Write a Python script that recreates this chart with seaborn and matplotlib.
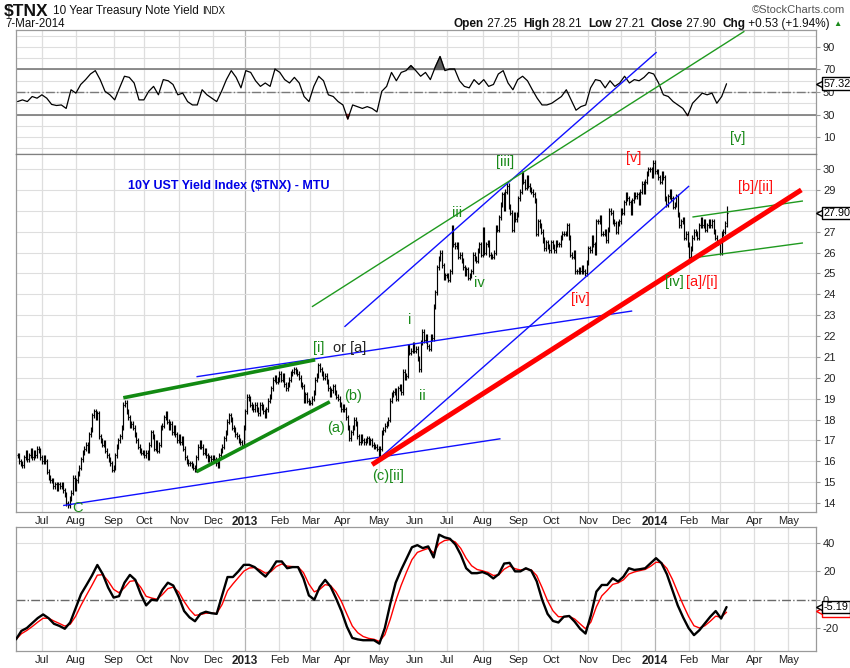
"""
$TNX daily bars with RSI behind price and a momentum oscillator below
"""
import numpy as np
import pandas as pd
import matplotlib
matplotlib.use('Agg')
import matplotlib.pyplot as plt
import matplotlib.transforms as mtransforms
import seaborn as sns

sns.set_style('white')
plt.rcParams['font.family'] = ['Liberation Sans', 'DejaVu Sans']
plt.rcParams['axes.unicode_minus'] = False

#%% ============================================ #
# DATA
# ============================================ #
jun12 = [16.3, 16.0, 15.9, 15.8, 16.2, 16.4, 16.1, 16.3, 16.5, 16.2, 16.4, 16.3, 16.6, 16.5, 16.2]
jul12 = [16.0, 16.2, 16.0, 15.5, 15.2, 15.1, 15.1, 14.8, 14.9, 14.7, 14.9, 14.8, 14.9, 14.6, 14.4,
         14.0, 13.9, 14.2, 14.5, 15.2, 14.7]
aug12 = [15.1, 15.4, 15.7, 16.1, 16.4, 16.6, 16.8, 16.5, 17.3, 17.5, 18.2, 18.4, 18.1, 18.3, 17.2,
         17.0, 16.8, 16.9, 16.5, 16.3, 16.1, 15.9, 15.6]
sep12 = [15.7, 16.3, 16.7, 17.0, 17.2, 17.6, 18.7, 18.8, 18.4, 18.1, 17.7, 17.8, 17.6, 17.3, 17.0,
         16.7, 16.5, 16.4, 16.4]
oct12 = [16.3, 16.4, 16.2, 16.8, 17.4, 17.2, 16.6, 16.9, 16.5, 16.8, 17.6, 17.7, 18.1, 18.3, 17.9,
         17.6, 17.8, 17.4, 17.6, 17.3, 17.0]
nov12 = [17.2, 16.9, 17.1, 16.6, 16.2, 16.0, 15.9, 15.9, 15.8, 15.7, 15.6, 16.2, 16.7, 16.9, 16.7,
         16.4, 16.5, 16.3, 16.1, 16.2, 16.1]
dec12 = [16.2, 16.1, 15.9, 15.8, 16.3, 16.5, 16.7, 17.1, 17.4, 17.9, 18.2, 18.0, 17.6, 17.5, 17.3,
         17.2, 17.0, 16.9, 16.8, 17.6]
jan13 = [18.4, 19.1, 19.0, 18.7, 18.6, 18.5, 18.7, 18.5, 18.3, 18.7, 18.6, 18.4, 18.2, 18.5, 18.9,
         19.1, 19.5, 19.9, 20.0, 19.8, 19.9]
feb13 = [20.2, 19.9, 20.1, 19.7, 19.5, 19.7, 19.9, 20.2, 20.3, 20.4, 20.3, 20.2, 20.0, 19.7, 19.6,
         18.9, 19.2, 18.9, 18.8]
mar13 = [18.8, 19.0, 19.3, 19.9, 20.1, 20.6, 20.4, 20.2, 20.0, 20.1, 19.8, 19.5, 19.2, 19.4, 19.6,
         19.3, 19.1, 19.0, 18.7, 18.5]
apr13 = [18.6, 18.5, 18.1, 17.6, 17.1, 17.4, 17.6, 18.0, 17.8, 17.2, 16.9, 17.2, 17.0, 16.9, 17.0,
         17.1, 16.9, 17.0, 16.8, 16.7, 16.7, 16.6]
may13 = [16.3, 16.6, 17.4, 17.5, 17.7, 17.8, 18.0, 18.9, 19.2, 19.3, 19.4, 19.0, 19.5, 19.6, 19.3,
         20.3, 20.0, 20.1, 21.5, 21.2, 21.3, 21.6]
jun13 = [21.3, 21.4, 20.9, 20.4, 21.7, 22.2, 21.8, 22.0, 21.5, 21.4, 22.0, 21.9, 23.4, 24.1, 25.3,
         25.7, 26.0, 25.4, 24.8, 24.9]
jul13 = [24.9, 24.7, 25.1, 27.2, 26.4, 26.3, 26.4, 25.8, 25.9, 25.6, 25.3, 25.0, 25.2, 24.8, 24.9,
         25.1, 25.9, 25.7, 25.6, 26.1, 26.4, 25.9]
aug13 = [27.1, 26.0, 26.4, 26.5, 25.9, 25.8, 25.8, 26.0, 27.2, 27.1, 27.7, 28.3, 28.8, 28.1, 28.9,
         29.2, 28.2, 27.9, 27.1, 27.8, 27.6, 27.8]
sep13 = [28.6, 28.9, 29.8, 29.4, 29.1, 29.6, 29.2, 29.0, 28.9, 28.8, 28.5, 26.9, 27.5, 27.3, 27.0,
         26.6, 26.2, 26.5, 26.3, 26.1]
oct13 = [26.5, 26.3, 26.1, 26.5, 26.4, 26.4, 26.7, 26.9, 26.9, 26.9, 27.3, 26.7, 25.9, 25.8, 26.0,
         25.1, 25.1, 25.2, 25.1, 25.3, 25.1, 25.0, 25.5]
nov13 = [26.2, 26.1, 26.7, 26.4, 26.0, 27.5, 27.5, 27.7, 26.9, 26.9, 27.0, 26.6, 27.1, 28.0, 27.9,
         27.5, 27.4, 27.0, 27.4, 27.5]
dec13 = [28.0, 27.9, 28.4, 28.8, 28.6, 28.4, 27.9, 28.5, 28.8, 28.7, 28.8, 28.4, 28.9, 29.3, 28.9,
         29.4, 29.8, 30.0, 30.0, 29.7, 30.3]
jan14 = [29.9, 29.9, 29.6, 29.4, 29.8, 29.6, 28.6, 28.3, 28.7, 28.9, 28.6, 28.2, 28.3, 28.7, 27.8,
         27.3, 27.5, 27.6, 26.7, 26.9, 26.4]
feb14 = [25.8, 26.2, 26.7, 27.0, 26.9, 26.7, 27.3, 27.6, 27.3, 27.5, 27.1, 27.3, 27.5, 27.3, 27.5,
         27.0, 26.7, 26.5, 26.5]
mar14 = [26.0, 26.9, 27.0, 27.4, 27.9]

# last bar from the header
last_open, last_high, last_low, last_close = 27.25, 28.21, 27.21, 27.90
last_chg, last_pct = '+0.53', '+1.94%'
last_rsi = 57.32
last_osc, last_signal = -5.19, -8.03

# RSI(14), sampled about every third session
rsi14 = [41.5, 43, 41.5, 46, 44.5, 47.5, 44.5, 39, 38, 38.5,
         35.4, 52, 49, 56.7, 61, 66, 69, 61, 50.6, 47.5,
         43, 53.7, 64, 63, 58, 43, 43, 50.6, 55, 47.5,
         61, 60, 56.7, 47.5, 49, 41.5, 38.5, 38.5, 52, 47.5,
         44.5, 41.5, 50.6, 61, 69, 63, 53.7, 69, 67.4, 60,
         55, 58, 55, 70.4, 67.4, 61, 58, 63, 58, 46,
         41.5, 55, 64, 60, 47.5, 46, 41.5, 38.5, 26, 38.5,
         37, 35.4, 37, 35.4, 32.3,
         50.6, 55, 67.4, 60, 67.4, 69, 73.5, 69, 64, 67.4,
         61, 72, 81.5, 69, 70.4, 70.4, 60, 55, 53.7, 61,
         56.7, 61, 55, 56.7, 66, 69, 58, 52, 61, 64,
         60, 52, 44.5, 38.5, 38.5, 40, 43, 46, 52, 43,
         33.8, 37, 38.5, 53.7, 61, 60, 53.7, 60, 55, 58,
         64, 58, 61, 60, 63, 67.4, 66, 58, 47.5, 46,
         41.5, 38.5, 35.4, 29, 40, 44.5, 49, 47.5, 49, 40,
         46, 57.32]

# lower oscillator, sampled evenly across the sessions
osc = [-28, -22, -20, -16.5, -13, -10.4, -13, -17, -18.5, -20.5,
       -16, -6, 4, 10.4, 17, 24.5, 18, 8.5, 1.5, 2.5,
       12, 17.5, 14, 4, -4, 0, -0.5, 7, 12, 10,
       2, -8, -12.5, -15.2, -10, -8.5, -9.5, -10, 3, 16,
       16, 20, 24.6, 24.6, 23, 19.5, 16.3, 21, 27, 27,
       22.2, 23, 23, 15, 3, 0, 9, 14, 9.2, 1,
       -8, -19, -27, -28, -28.6, -28.6, -28.6, -31, -20, -3,
       12, 21, 29, 37, 38.5, 36.4, 37.6, 29.8, 45.9, 44,
       43, 39, 31.7, 22.2, 18.7, 18.7, 19.5, 18, 15, 18,
       25.5, 26, 20, 20, 22.2, 20.5, 13, 0, -10, -15,
       -16.1, -12, -11.5, -15.5, -20.5, -23.9, -10.9, 5.7, 10.4, 10.4,
       15.1, 12.8, 16.3, 22.2, 21, 21.5, 22.2, 25.8, 29.3, 25.8,
       18, 7, -4, -12.5, -20, -25, -21.5, -16.8, -12, -8,
       -13.3, -5.19]

holidays = ['2012-07-04', '2012-09-03', '2012-10-29', '2012-10-30', '2012-11-22', '2012-12-25',
            '2013-01-01', '2013-01-21', '2013-02-18', '2013-03-29', '2013-05-27', '2013-07-04',
            '2013-09-02', '2013-11-28', '2013-12-25', '2014-01-01', '2014-01-20', '2014-02-17',
            '2014-04-18', '2014-05-26']

# drawn trendlines: start date, price, end date, price
blue_lines = [('2012-07-20', 13.88, '2013-08-16', 17.08),
              ('2012-11-16', 20.05, '2013-12-11', 23.20),
              ('2013-05-02', 16.17, '2014-02-03', 29.19),
              ('2013-04-02', 22.44, '2014-01-03', 35.60)]
green_thin = [('2013-03-04', 23.40, '2014-03-24', 36.60),
              ('2014-02-05', 27.70, '2014-05-14', 28.47),
              ('2014-02-05', 25.74, '2014-05-14', 26.46)]
green_thick = [('2012-09-12', 19.04, '2013-03-06', 20.86),
               ('2012-11-16', 15.50, '2013-03-19', 18.85)]
red_line = ('2013-04-25', 15.84, '2014-05-13', 29.00)

# wave labels: text, date, price, colour
wave_labels = [('C', '2012-08-02', 13.76, 'g'),
               ('[i]', '2013-03-08', 21.43, 'g'),
               ('or [a]', '2013-04-05', 21.43, 'k'),
               ('(b)', '2013-04-09', 19.13, 'g'),
               ('(a)', '2013-03-25', 17.59, 'g'),
               ('(c)[ii]', '2013-05-09', 15.29, 'g'),
               ('i', '2013-05-29', 22.77, 'g'),
               ('ii', '2013-06-10', 19.13, 'g'),
               ('iii', '2013-07-10', 27.89, 'g'),
               ('iv', '2013-07-30', 24.54, 'g'),
               ('[iii]', '2013-08-21', 30.34, 'g'),
               ('[v]', '2013-12-12', 30.53, 'r'),
               ('[iv]', '2013-10-25', 23.77, 'r'),
               ('[iv]', '2014-01-21', 24.59, 'g'),
               ('[a]/[i]', '2014-02-13', 24.59, 'r'),
               ('[b]/[ii]', '2014-04-02', 29.14, 'r'),
               ('[v]', '2014-03-18', 31.49, 'g')]

#%% ============================================ #
# SESSIONS AND BARS
# ============================================ #
days = pd.bdate_range('2012-06-11', '2014-05-30')
days = days[~days.isin(pd.to_datetime(holidays))]

close = np.array(jun12 + jul12 + aug12 + sep12 + oct12 + nov12 + dec12 + jan13 + feb13 +
                 mar13 + apr13 + may13 + jun13 + jul13 + aug13 + sep13 + oct13 + nov13 +
                 dec13 + jan14 + feb14 + mar14)
n = len(close)
idx = np.arange(n)

def xi(d):
    return int(days.searchsorted(pd.Timestamp(d)))

opn = np.r_[close[0], close[:-1]]
hi = np.maximum(opn, close) + 0.12
lo = np.minimum(opn, close) - 0.12
opn[-1], hi[-1], lo[-1] = last_open, last_high, last_low

# month gridlines / labels
months = pd.Series(days, index=days).groupby(days.to_period('M')).first()
months = months[months.index >= pd.Period('2012-07', 'M')]
month_x = [xi(d) for d in months.values]
month_lab = [str(d.year) if d.month == 1 else d.strftime('%b') for d in months]

#%% ============================================ #
# FIGURE
# ============================================ #
W, H = 850, 668
fig = plt.figure(figsize=(W / 100, H / 100), dpi=100, facecolor='white')

def rect(l, t, r, b):
    return [l / W, 1 - b / H, (r - l) / W, (b - t) / H]

ax_rsi = fig.add_axes(rect(16, 30, 816, 154))
ax_px = fig.add_axes(rect(16, 154, 816, 512))
ax_osc = fig.add_axes(rect(16, 527, 816, 651))

i_jul, i_jan = xi('2012-07-02'), xi('2014-01-02')
s = (655 - 42) / (i_jan - i_jul)
xlim = (i_jul - (42 - 16) / s, i_jul + (816 - 42) / s)

grid_c, year_c, edge_c = '#dedede', '#b5b5b5', '#9a9a9a'
for ax in [ax_rsi, ax_px, ax_osc]:
    ax.set_xlim(xlim)
    for mx, ml in zip(month_x, month_lab):
        ax.axvline(mx, color=year_c if ml.isdigit() else grid_c, lw=0.9, zorder=0)
    ax.yaxis.tick_right()
    ax.tick_params(axis='y', labelsize=8, length=3, color=edge_c, pad=2, labelcolor='#222222')
    ax.tick_params(axis='x', length=0, labelsize=8, pad=3, labelcolor='#222222')
    for sp in ax.spines.values():
        sp.set_color(edge_c)
        sp.set_linewidth(0.9)
    ax.set_xticks(month_x)
    ax.set_xticklabels(month_lab)
    for t in ax.get_xticklabels():
        if t.get_text().isdigit():
            t.set_fontweight('bold')
            t.set_fontsize(8.5)
    ax.set(xlabel='', ylabel='')
ax_rsi.set_xticklabels([])

# ---- RSI behind price (top)
ax_rsi.set_ylim(-5.1, 105.1)
for lvl in range(0, 101, 10):
    ax_rsi.axhline(lvl, color=grid_c, lw=0.8, zorder=0)
ax_rsi.axhline(70, color='#7a7a7a', lw=1.2, zorder=1)
ax_rsi.axhline(30, color='#7a7a7a', lw=1.2, zorder=1)
ax_rsi.axhline(50, color='#7a7a7a', lw=1.0, ls='-.', zorder=1)
rsi_x = np.linspace(0, n - 1, len(rsi14))
rsi_y = np.array(rsi14)
ax_rsi.fill_between(rsi_x, rsi_y, 70, where=rsi_y > 70, interpolate=True, color='#5e5e5e', zorder=2)
ax_rsi.fill_between(rsi_x, rsi_y, 30, where=rsi_y < 30, interpolate=True, color='#8b2020', zorder=2)
sns.lineplot(x=rsi_x, y=rsi_y, ax=ax_rsi, color='black', lw=0.9, zorder=3)
ax_rsi.set_yticks([10, 30, 50, 70, 90])
ax_rsi.spines['bottom'].set_color('#808080')

# ---- price bars
ax_px.set_ylim(13.57, 30.72)
for lvl in range(14, 31):
    ax_px.axhline(lvl, color=grid_c, lw=0.8, zorder=0)
ax_px.set_yticks(range(14, 31))
ax_px.spines['top'].set_color('#808080')
ax_px.vlines(idx, lo, hi, color='black', lw=0.85, zorder=3)
ax_px.hlines(opn, idx - 0.6, idx, color='black', lw=0.8, zorder=3)
ax_px.hlines(close, idx, idx + 0.6, color='black', lw=0.8, zorder=3)

def trend(ax, seg, color, lw):
    d0, p0, d1, p1 = seg
    ax.plot([xi(d0), xi(d1)], [p0, p1], color=color, lw=lw, clip_on=False,
            solid_capstyle='butt', zorder=5)

for seg in blue_lines:
    trend(ax_px, seg, '#1010ff', 1.0)
for seg in green_thin:
    trend(ax_px, seg, '#1f9a1f', 1.0)
for seg in green_thick:
    trend(ax_px, seg, '#128a12', 2.6)
trend(ax_px, red_line, '#ff0000', 3.6)

colmap = {'g': '#1a8a1a', 'r': '#ff1010', 'k': '#222222'}
for txt, d, p, c in wave_labels:
    ax_px.text(xi(d), p, txt, color=colmap[c], fontsize=10.5, ha='center', va='center',
               clip_on=False, zorder=6)

ax_px.text(xi('2012-12-17'), 29.19, r'10Y UST Yield Index (\$TNX) - MTU', color='#0000e6',
           fontsize=9, fontweight='bold', ha='center', va='center', zorder=6)

# ---- oscillator
ax_osc.set_ylim(-36.2, 51.3)
for lvl in [-20, 20, 40]:
    ax_osc.axhline(lvl, color=grid_c, lw=0.8, zorder=0)
ax_osc.axhline(0, color='#6a6a6a', lw=1.0, ls='-.', zorder=1)
osc_x = np.linspace(-1, n - 1, len(osc))
signal = pd.Series(osc).ewm(span=3).mean().values
sns.lineplot(x=osc_x, y=signal, ax=ax_osc, color='#ff0000', lw=1.0, zorder=3)
sns.lineplot(x=osc_x, y=np.array(osc), ax=ax_osc, color='black', lw=1.7, zorder=4)
ax_osc.set_yticks([-20, 0, 20, 40])

# ---- last-value flags on the right
def flag(ax, y, txt, ec, z):
    tr = mtransforms.blended_transform_factory(ax.transAxes, ax.transData)
    ax.plot([1.0055], [y], marker='<', ms=6, mfc='white', mec=ec, mew=1.0, transform=tr,
            clip_on=False, zorder=z)
    ax.text(1.0095, y, txt, transform=tr, fontsize=7.8, ha='left', va='center', color='black',
            clip_on=False, zorder=z + 0.5,
            bbox=dict(boxstyle='square,pad=0.12', fc='white', ec=ec, lw=1.0))

flag(ax_osc, last_signal, f'{last_signal:.2f}', '#ff0000', 20)
flag(ax_osc, last_osc, f'{last_osc:.2f}', 'black', 22)
flag(ax_px, last_close, f'{last_close:.2f}', 'black', 20)
flag(ax_rsi, last_rsi, f'{last_rsi:.2f}', 'black', 20)

#%% ============================================ #
# HEADER
# ============================================ #
renderer = fig.canvas.get_renderer()

def row(pieces, y, x0=None, x1=None, gap=0):
    texts = [fig.text(0, 1 - y / H, p, fontsize=fs, va='center', fontweight=fw, color='#111111')
             for p, fs, fw in pieces]
    widths = [t.get_window_extent(renderer).width + gap for t in texts]
    x = x0 if x0 is not None else x1 - sum(widths)
    for t, w in zip(texts, widths):
        t.set_x(x / W)
        x += w
    return x

row([(r'\$TNX', 12.5, 'bold'), ('10 Year Treasury Note Yield', 8.5, 'normal'),
     ('INDX', 7, 'normal')], 11, x0=4, gap=4)
fig.text(5 / W, 1 - 24 / H, '7-Mar-2014', fontsize=8.3, va='center', color='#111111')
fig.text(845 / W, 1 - 10 / H, '\u00a9StockCharts.com', fontsize=8, color='#555555',
         ha='right', va='center')

pieces = [('Open', 8.5, 'bold'), (' %.2f  ' % last_open, 8.5, 'normal'), ('High', 8.5, 'bold'),
          (' %.2f  ' % last_high, 8.5, 'normal'), ('Low', 8.5, 'bold'),
          (' %.2f  ' % last_low, 8.5, 'normal'), ('Close', 8.5, 'bold'),
          (' %.2f  ' % last_close, 8.5, 'normal'), ('Chg', 8.5, 'bold'),
          (' %s (%s)' % (last_chg, last_pct), 8.5, 'normal')]
x_end = row(pieces, 24, x1=830)
fig.text((x_end + 3) / W, 1 - 24 / H, '\u25b2', fontsize=6, color='#1a8a1a', va='center')

fig.savefig('out.png', dpi=100, facecolor='white')
